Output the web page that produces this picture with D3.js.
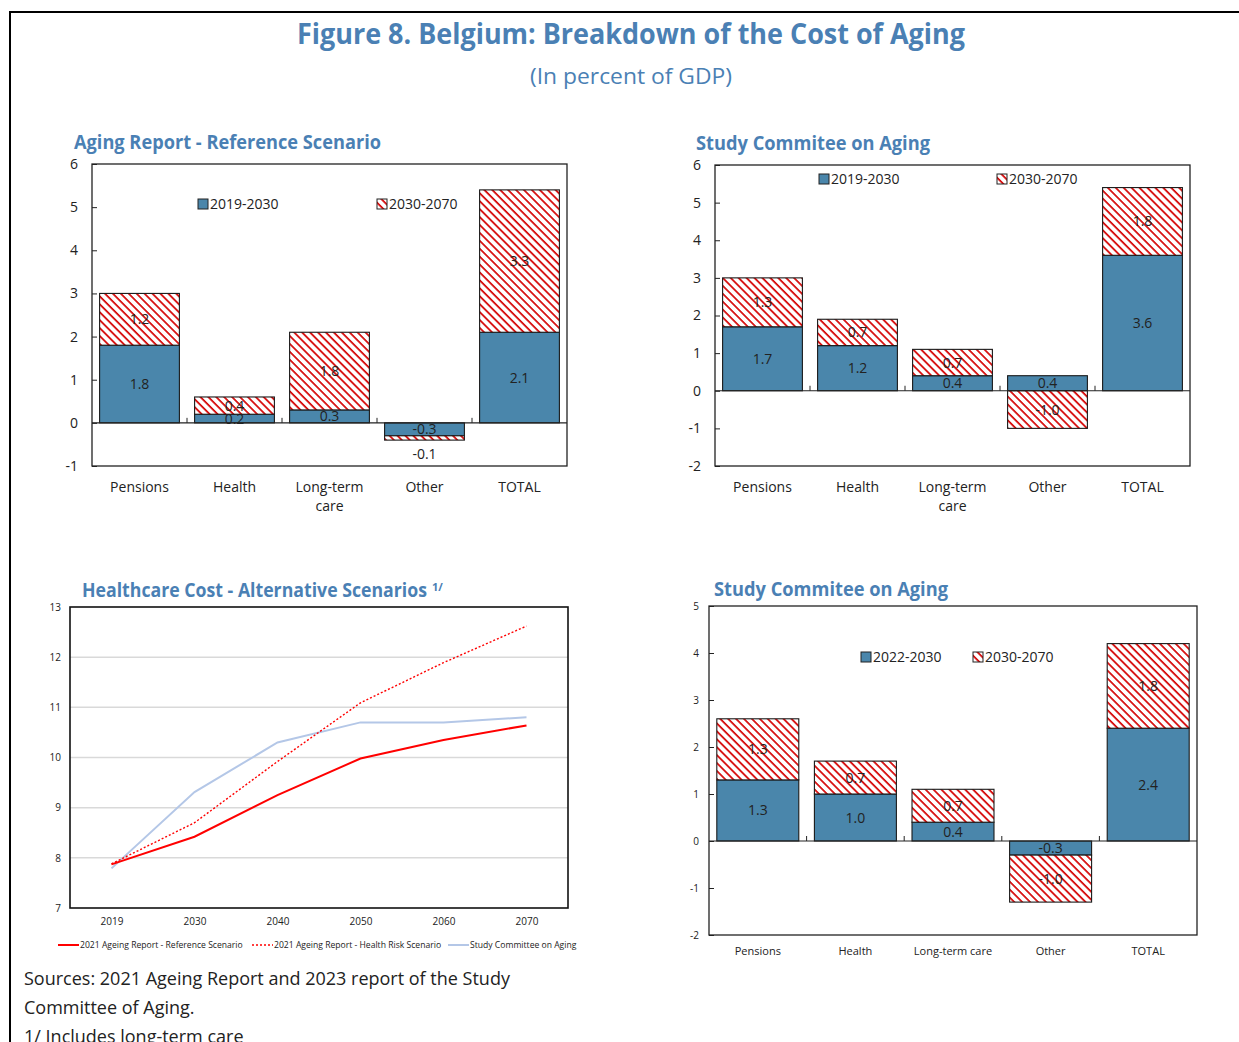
<!DOCTYPE html>
<html>
<head>
<meta charset="utf-8">
<script src="https://cdn.jsdelivr.net/npm/d3@7"></script>
<style>
  body { margin: 0; background: #fff; }
  svg text { font-family: "Open Sans", "Noto Sans", sans-serif; }
</style>
</head>
<body>
<svg id="fig"></svg>
<script>
// ---- data ----
const categories = ["Pensions", "Health", "Long-term care", "Other", "TOTAL"];

// Aging Report - Reference Scenario
const refEarly = [1.8, 0.2, 0.3, -0.3, 2.1];   // 2019-2030
const refLate = [1.2, 0.4, 1.8, -0.1, 3.3];    // 2030-2070

// Study Commitee on Aging (top)
const scaEarly = [1.7, 1.2, 0.4, 0.4, 3.6];    // 2019-2030
const scaLate = [1.3, 0.7, 0.7, -1.0, 1.8];    // 2030-2070

// Study Commitee on Aging (bottom)
const sca2Early = [1.3, 1.0, 0.4, -0.3, 2.4];  // 2022-2030
const sca2Late = [1.3, 0.7, 0.7, -1.0, 1.8];   // 2030-2070

// Healthcare cost lines
const years = ["2019", "2030", "2040", "2050", "2060", "2070"];
const healthRef = [7.87, 8.42, 9.25, 9.98, 10.35, 10.64];
const healthRisk = [7.88, 8.70, 9.92, 11.09, 11.89, 12.62];
const studyCommittee = [7.79, 9.31, 10.30, 10.70, 10.70, 10.80];

const blue = "#4a86ab";
const titleBlue = "#4a80b4";

const svg = d3.select("#fig").attr("width", 1239).attr("height", 1042);

// hatch pattern for 2030-2070
const defs = svg.append("defs");
const pat = defs.append("pattern")
    .attr("id", "hatch")
    .attr("patternUnits", "userSpaceOnUse")
    .attr("width", 5.6)
    .attr("height", 5.6)
    .attr("patternTransform", "rotate(-45)");
pat.append("rect").attr("width", 5.6).attr("height", 5.6).attr("fill", "#fff");
pat.append("line")
    .attr("x1", 1).attr("y1", 0).attr("x2", 1).attr("y2", 5.6)
    .attr("stroke", "#d40000").attr("stroke-width", 1.7);

// outer frame
svg.append("path")
    .attr("d", "M10,1042 V12 H1239")
    .attr("fill", "none")
    .attr("stroke", "#000")
    .attr("stroke-width", 2);

// main titles
svg.append("text")
    .attr("x", 631).attr("y", 44)
    .attr("text-anchor", "middle")
    .attr("font-size", 28).attr("font-weight", "bold")
    .attr("fill", titleBlue)
    .attr("textLength", 668).attr("lengthAdjust", "spacingAndGlyphs")
    .text("Figure 8. Belgium: Breakdown of the Cost of Aging");
svg.append("text")
    .attr("x", 631).attr("y", 84)
    .attr("text-anchor", "middle")
    .attr("font-size", 22)
    .attr("fill", titleBlue)
    .attr("textLength", 202).attr("lengthAdjust", "spacingAndGlyphs")
    .text("(In percent of GDP)");

const fmtTick = d => String(d);
const fmtVal = v => v.toFixed(1);

function barChart(cfg) {
  const g = svg.append("g");
  const x = d3.scaleBand()
      .domain(categories)
      .range([cfg.left, cfg.right])
      .paddingInner(0.16)
      .paddingOuter(0.08);
  const y = d3.scaleLinear()
      .domain(cfg.domain)
      .range([cfg.bottom, cfg.top]);

  // title
  g.append("text")
      .attr("x", cfg.titleX).attr("y", cfg.titleY)
      .attr("font-size", 19).attr("font-weight", "bold")
      .attr("fill", titleBlue)
      .attr("textLength", cfg.titleLen).attr("lengthAdjust", "spacingAndGlyphs")
      .text(cfg.title);

  // y axis
  const yAxis = g.append("g")
      .attr("transform", `translate(${cfg.left},0)`)
      .call(d3.axisLeft(y)
          .ticks(cfg.domain[1] - cfg.domain[0])
          .tickFormat(fmtTick)
          .tickSize(-5)
          .tickPadding(cfg.tickPad));
  yAxis.select(".domain").remove();
  yAxis.selectAll("line").attr("stroke", "#222");
  yAxis.selectAll("text")
      .attr("font-size", cfg.tickFont)
      .attr("fill", "#222")
      .attr("font-family", "Open Sans, sans-serif");

  // stacked data
  const rows = categories.map((c, i) => ({ cat: c, early: cfg.early[i], late: cfg.late[i] }));
  const series = d3.stack()
      .keys(["early", "late"])
      .offset(d3.stackOffsetDiverging)(rows);

  series.forEach(s => {
    g.append("g").selectAll("rect")
        .data(s)
        .join("rect")
        .attr("x", d => x(d.data.cat))
        .attr("width", x.bandwidth())
        .attr("y", d => y(Math.max(d[0], d[1])))
        .attr("height", d => Math.abs(y(d[0]) - y(d[1])))
        .attr("fill", s.key === "early" ? blue : "url(#hatch)")
        .attr("stroke", "#1a1a1a")
        .attr("stroke-width", 1.1);
  });

  // value labels
  series.forEach(s => {
    g.append("g").selectAll("text")
        .data(s)
        .join("text")
        .attr("x", d => x(d.data.cat) + x.bandwidth() / 2)
        .attr("y", d => {
          const h = Math.abs(y(d[0]) - y(d[1]));
          const v = d.data[s.key];
          if (h < 6) return v < 0 ? y(d[0]) + 19 : y(d[1]) - 6;
          return (y(d[0]) + y(d[1])) / 2 + cfg.labelFont * 0.36;
        })
        .attr("text-anchor", "middle")
        .attr("font-size", cfg.labelFont)
        .attr("fill", "#222")
        .text(d => fmtVal(d.data[s.key]));
  });

  // zero line and category ticks
  g.append("line")
      .attr("x1", cfg.left).attr("x2", cfg.right)
      .attr("y1", y(0)).attr("y2", y(0))
      .attr("stroke", "#222").attr("stroke-width", 1.2);
  g.append("g").selectAll("line")
      .data(categories.slice(1))
      .join("line")
      .attr("x1", d => x(d) - x.step() * x.paddingInner() / 2)
      .attr("x2", d => x(d) - x.step() * x.paddingInner() / 2)
      .attr("y1", y(0)).attr("y2", y(0) - 5)
      .attr("stroke", "#222");

  // plot border
  g.append("rect")
      .attr("x", cfg.left).attr("y", cfg.top)
      .attr("width", cfg.right - cfg.left).attr("height", cfg.bottom - cfg.top)
      .attr("fill", "none")
      .attr("stroke", "#222").attr("stroke-width", 1.3);

  // category labels
  const cl = g.append("g").selectAll("text")
      .data(categories)
      .join("text")
      .attr("x", d => x(d) + x.bandwidth() / 2)
      .attr("y", cfg.catY)
      .attr("text-anchor", "middle")
      .attr("font-size", cfg.catFont)
      .attr("fill", "#222");
  cl.each(function(d) {
    const t = d3.select(this);
    if (cfg.wrap && d === "Long-term care") {
      t.append("tspan").attr("x", x(d) + x.bandwidth() / 2).text("Long-term");
      t.append("tspan").attr("x", x(d) + x.bandwidth() / 2).attr("dy", 18.5).text("care");
    } else {
      t.text(d);
    }
  });

  // legend
  cfg.legend.forEach((item, i) => {
    const lg = g.append("g").attr("transform", `translate(${item.x},${cfg.legendY})`);
    lg.append("rect")
        .attr("x", 0).attr("y", -5)
        .attr("width", 10).attr("height", 10)
        .attr("fill", i === 0 ? blue : "url(#hatch)")
        .attr("stroke", "#222");
    lg.append("text")
        .attr("x", 12).attr("y", 5)
        .attr("font-size", 14)
        .attr("fill", "#222")
        .text(item.label);
  });
}

barChart({
  title: "Aging Report - Reference Scenario", titleX: 74, titleY: 149, titleLen: 307,
  left: 92, right: 567, top: 164, bottom: 466, domain: [-1, 6],
  early: refEarly, late: refLate,
  tickFont: 14, tickPad: 14, labelFont: 14, catFont: 14, catY: 492, wrap: true,
  legendY: 204, legend: [{ x: 198, label: "2019-2030" }, { x: 377, label: "2030-2070" }]
});

barChart({
  title: "Study Commitee on Aging", titleX: 696, titleY: 150, titleLen: 234,
  left: 715, right: 1190, top: 165, bottom: 466, domain: [-2, 6],
  early: scaEarly, late: scaLate,
  tickFont: 14, tickPad: 14, labelFont: 14, catFont: 14, catY: 492, wrap: true,
  legendY: 179, legend: [{ x: 819, label: "2019-2030" }, { x: 997, label: "2030-2070" }]
});

barChart({
  title: "Study Commitee on Aging", titleX: 714, titleY: 596, titleLen: 234,
  left: 709, right: 1197, top: 606, bottom: 935, domain: [-2, 5],
  early: sca2Early, late: sca2Late,
  tickFont: 10, tickPad: 10, labelFont: 14, catFont: 11, catY: 955, wrap: false,
  legendY: 657, legend: [{ x: 861, label: "2022-2030" }, { x: 973, label: "2030-2070" }]
});

// ---- line chart ----
function lineChart() {
  const left = 70, right = 568, top = 607, bottom = 908;
  const g = svg.append("g");
  const x = d3.scalePoint().domain(years).range([left, right]).padding(0.5);
  const y = d3.scaleLinear().domain([7, 13]).range([bottom, top]);

  const title = g.append("text")
      .attr("x", 82).attr("y", 597)
      .attr("font-weight", "bold")
      .attr("fill", titleBlue);
  title.append("tspan")
      .attr("font-size", 19)
      .attr("textLength", 345).attr("lengthAdjust", "spacingAndGlyphs")
      .text("Healthcare Cost - Alternative Scenarios");
  title.append("tspan")
      .attr("x", 432).attr("dy", -6)
      .attr("font-size", 11)
      .text("1/");

  // grid
  g.append("g").selectAll("line")
      .data([8, 9, 10, 11, 12])
      .join("line")
      .attr("x1", left).attr("x2", right)
      .attr("y1", d => y(d)).attr("y2", d => y(d))
      .attr("stroke", "#d9d9d9").attr("stroke-width", 1.5);

  const yAxis = g.append("g")
      .attr("transform", `translate(${left},0)`)
      .call(d3.axisLeft(y).ticks(6).tickFormat(fmtTick).tickSize(0).tickPadding(9));
  yAxis.select(".domain").remove();
  yAxis.selectAll("text").attr("font-size", 10).attr("fill", "#222")
      .attr("font-family", "Open Sans, sans-serif");

  const xAxis = g.append("g")
      .attr("transform", `translate(0,${bottom})`)
      .call(d3.axisBottom(x).tickSize(0).tickPadding(10));
  xAxis.select(".domain").remove();
  xAxis.selectAll("text").attr("font-size", 10).attr("fill", "#222")
      .attr("font-family", "Open Sans, sans-serif");

  const line = d3.line().x((d, i) => x(years[i])).y(d => y(d));
  const lines = [
    { data: studyCommittee, color: "#b4c7e7", width: 2, dash: null },
    { data: healthRisk, color: "#ff0000", width: 1.4, dash: "2,2" },
    { data: healthRef, color: "#ff0000", width: 2, dash: null }
  ];
  lines.forEach(l => {
    g.append("path")
        .datum(l.data)
        .attr("d", line)
        .attr("fill", "none")
        .attr("stroke", l.color)
        .attr("stroke-width", l.width)
        .attr("stroke-dasharray", l.dash);
  });

  g.append("rect")
      .attr("x", left).attr("y", top)
      .attr("width", right - left).attr("height", bottom - top)
      .attr("fill", "none").attr("stroke", "#111").attr("stroke-width", 1.6);

  // legend
  const items = [
    { x: 58, color: "#ff0000", width: 2, dash: null, label: "2021 Ageing Report - Reference Scenario" },
    { x: 252, color: "#ff0000", width: 1.4, dash: "2,2", label: "2021 Ageing Report - Health Risk Scenario" },
    { x: 448, color: "#b4c7e7", width: 2, dash: null, label: "Study Committee on Aging" }
  ];
  items.forEach(it => {
    g.append("line")
        .attr("x1", it.x).attr("x2", it.x + 21)
        .attr("y1", 945).attr("y2", 945)
        .attr("stroke", it.color).attr("stroke-width", it.width)
        .attr("stroke-dasharray", it.dash);
    g.append("text")
        .attr("x", it.x + 22).attr("y", 948)
        .attr("font-size", 8.6).attr("fill", "#222")
        .text(it.label);
  });
}
lineChart();

// ---- notes ----
const notes = [
  "Sources: 2021 Ageing Report and 2023 report of the Study",
  "Committee of Aging.",
  "1/ Includes long-term care"
];
svg.append("g").selectAll("text")
    .data(notes)
    .join("text")
    .attr("x", 24)
    .attr("y", (d, i) => 985 + i * 29)
    .attr("font-size", 18)
    .attr("fill", "#222")
    .text(d => d);
</script>
</body>
</html>
